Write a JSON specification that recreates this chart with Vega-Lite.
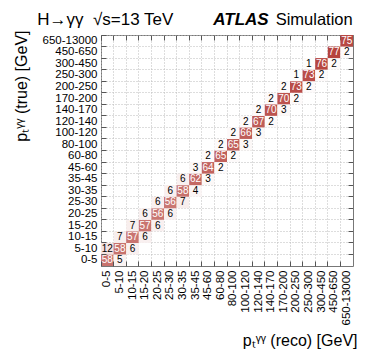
{
  "$schema": "https://vega.github.io/schema/vega-lite/v6.json",
  "autosize": {"type": "none"},
  "padding": {"left": 101, "top": 35, "right": 21, "bottom": 97},
  "width": 252,
  "height": 231,
  "background": "white",
  "config": {
    "font": "Liberation Sans",
    "view": {"stroke": "#777", "strokeWidth": 1}
  },
  "data": {
    "values": [
      {"t": "0-5", "r": "0-5", "v": 58}, {"t": "0-5", "r": "5-10", "v": 5},
      {"t": "5-10", "r": "0-5", "v": 12}, {"t": "5-10", "r": "5-10", "v": 58}, {"t": "5-10", "r": "10-15", "v": 6},
      {"t": "10-15", "r": "5-10", "v": 7}, {"t": "10-15", "r": "10-15", "v": 57}, {"t": "10-15", "r": "15-20", "v": 6},
      {"t": "15-20", "r": "10-15", "v": 7}, {"t": "15-20", "r": "15-20", "v": 57}, {"t": "15-20", "r": "20-25", "v": 6},
      {"t": "20-25", "r": "15-20", "v": 6}, {"t": "20-25", "r": "20-25", "v": 56}, {"t": "20-25", "r": "25-30", "v": 6},
      {"t": "25-30", "r": "20-25", "v": 6}, {"t": "25-30", "r": "25-30", "v": 56}, {"t": "25-30", "r": "30-35", "v": 7},
      {"t": "30-35", "r": "25-30", "v": 6}, {"t": "30-35", "r": "30-35", "v": 58}, {"t": "30-35", "r": "35-45", "v": 4},
      {"t": "35-45", "r": "30-35", "v": 6}, {"t": "35-45", "r": "35-45", "v": 62}, {"t": "35-45", "r": "45-60", "v": 3},
      {"t": "45-60", "r": "35-45", "v": 3}, {"t": "45-60", "r": "45-60", "v": 64}, {"t": "45-60", "r": "60-80", "v": 2},
      {"t": "60-80", "r": "45-60", "v": 2}, {"t": "60-80", "r": "60-80", "v": 65}, {"t": "60-80", "r": "80-100", "v": 2},
      {"t": "80-100", "r": "60-80", "v": 2}, {"t": "80-100", "r": "80-100", "v": 65}, {"t": "80-100", "r": "100-120", "v": 3},
      {"t": "100-120", "r": "80-100", "v": 2}, {"t": "100-120", "r": "100-120", "v": 66}, {"t": "100-120", "r": "120-140", "v": 3},
      {"t": "120-140", "r": "100-120", "v": 2}, {"t": "120-140", "r": "120-140", "v": 67}, {"t": "120-140", "r": "140-170", "v": 2},
      {"t": "140-170", "r": "120-140", "v": 2}, {"t": "140-170", "r": "140-170", "v": 70}, {"t": "140-170", "r": "170-200", "v": 3},
      {"t": "170-200", "r": "140-170", "v": 2}, {"t": "170-200", "r": "170-200", "v": 70}, {"t": "170-200", "r": "200-250", "v": 2},
      {"t": "200-250", "r": "170-200", "v": 2}, {"t": "200-250", "r": "200-250", "v": 73}, {"t": "200-250", "r": "250-300", "v": 2},
      {"t": "250-300", "r": "200-250", "v": 1}, {"t": "250-300", "r": "250-300", "v": 73}, {"t": "250-300", "r": "300-450", "v": 2},
      {"t": "300-450", "r": "250-300", "v": 1}, {"t": "300-450", "r": "300-450", "v": 76}, {"t": "300-450", "r": "450-650", "v": 2},
      {"t": "450-650", "r": "450-650", "v": 77}, {"t": "450-650", "r": "650-13000", "v": 2},
      {"t": "650-13000", "r": "650-13000", "v": 75}
    ]
  },
  "resolve": {"axis": {"x": "independent", "y": "independent"}},
  "layer": [
    {
      "mark": {"type": "rect"},
      "encoding": {
        "x": {
          "field": "r", "type": "ordinal",
          "scale": {"domain": ["0-5","5-10","10-15","15-20","20-25","25-30","30-35","35-45","45-60","60-80","80-100","100-120","120-140","140-170","170-200","200-250","250-300","300-450","450-650","650-13000"], "paddingInner": 0, "paddingOuter": 0},
          "axis": {
            "orient": "bottom",
            "title": "pₜᵞᵞ  (reco) [GeV]",
            "titleFont": "Liberation Sans", "titleFontSize": 16, "titleFontWeight": "normal", "titleColor": "black",
            "titleAlign": "right", "titleAnchor": "end", "titleX": 256, "titleY": 79, "titleBaseline": "alphabetic",
            "labelAngle": -90, "labelFontSize": 11.5, "labelColor": "black", "labelPadding": 9,
            "bandPosition": 0, "ticks": true, "tickSize": -5, "tickColor": "#555",
            "domain": false, "grid": false
          }
        },
        "y": {
          "field": "t", "type": "ordinal",
          "scale": {"domain": ["650-13000","450-650","300-450","250-300","200-250","170-200","140-170","120-140","100-120","80-100","60-80","45-60","35-45","30-35","25-30","20-25","15-20","10-15","5-10","0-5"], "paddingInner": 0, "paddingOuter": 0},
          "axis": {
            "orient": "left",
            "title": "pₜᵞᵞ  (true) [GeV]",
            "titleFont": "Liberation Sans", "titleFontSize": 16, "titleFontWeight": "normal", "titleColor": "black",
            "titleAngle": -90, "titleAlign": "right", "titleAnchor": "end", "titleX": -75, "titleY": -5, "titleBaseline": "alphabetic",
            "labelFontSize": 11.5, "labelColor": "black", "labelPadding": 9,
            "bandPosition": 0, "ticks": true, "tickSize": -5, "tickColor": "#555",
            "domain": false, "grid": false
          }
        },
        "color": {
          "field": "v", "type": "quantitative",
          "scale": {"domain": [0, 78], "range": ["#ffffff", "#b5413b"], "interpolate": "rgb"},
          "legend": null
        }
      }
    },
    {
      "mark": {"type": "text", "fontSize": 10, "font": "Liberation Sans"},
      "encoding": {
        "x": {
          "field": "r", "type": "ordinal",
          "axis": {
            "orient": "top", "labels": false, "title": null, "domain": false,
            "bandPosition": 0, "tickSize": -5, "tickColor": "#555",
            "grid": true, "gridColor": "#bbb", "gridDash": [1, 2], "gridWidth": 1
          }
        },
        "y": {
          "field": "t", "type": "ordinal",
          "axis": {
            "orient": "right", "labels": false, "title": null, "domain": false,
            "bandPosition": 0, "tickSize": -5, "tickColor": "#555",
            "grid": true, "gridColor": "#bbb", "gridDash": [1, 2], "gridWidth": 1
          }
        },
        "text": {"field": "v", "type": "quantitative"},
        "color": {
          "condition": {"test": "datum.v > 30", "value": "white"},
          "value": "black"
        }
      }
    },
    {
      "data": {"values": [{"label": "H→γγ\u00a0\u00a0√s=13 TeV", "r": "0-5", "t": "650-13000"}]},
      "mark": {"type": "text", "font": "Liberation Sans", "fontSize": 17, "align": "left", "dx": -70, "dy": -21},
      "encoding": {
        "x": {"field": "r", "type": "ordinal", "axis": null},
        "y": {"field": "t", "type": "ordinal", "axis": null},
        "text": {"field": "label"}
      }
    },
    {
      "data": {"values": [{"label": "ATLAS", "r": "650-13000", "t": "650-13000"}]},
      "mark": {"type": "text", "font": "Liberation Sans", "fontSize": 17, "fontWeight": "bold", "fontStyle": "italic", "align": "right", "dx": -78, "dy": -21},
      "encoding": {
        "x": {"field": "r", "type": "ordinal", "axis": null},
        "y": {"field": "t", "type": "ordinal", "axis": null},
        "text": {"field": "label"}
      }
    },
    {
      "data": {"values": [{"label": "Simulation", "r": "650-13000", "t": "650-13000"}]},
      "mark": {"type": "text", "font": "Liberation Sans", "fontSize": 16.5, "align": "right", "dx": 6, "dy": -21},
      "encoding": {
        "x": {"field": "r", "type": "ordinal", "axis": null},
        "y": {"field": "t", "type": "ordinal", "axis": null},
        "text": {"field": "label"}
      }
    }
  ]
}
